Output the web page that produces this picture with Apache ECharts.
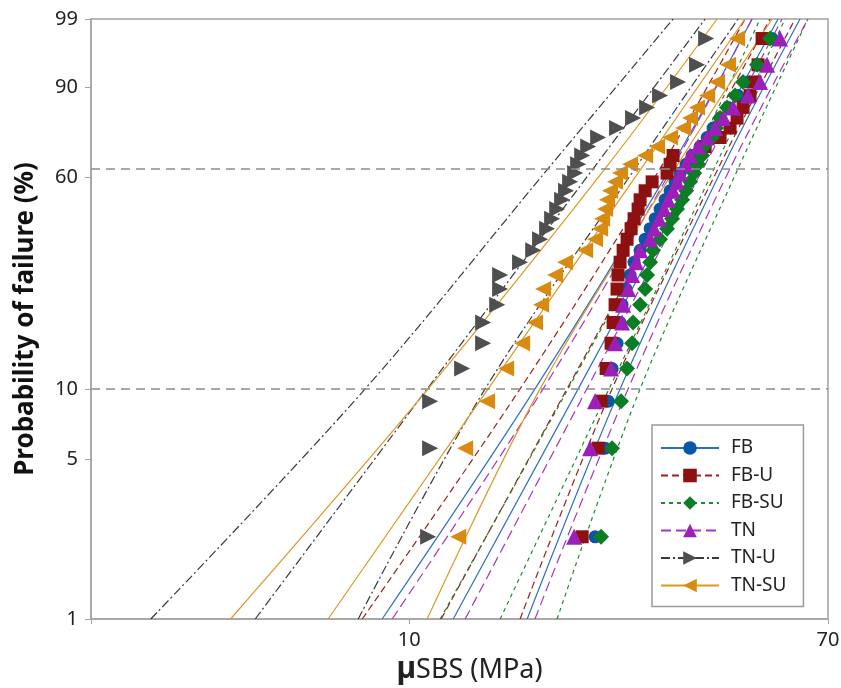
<!DOCTYPE html>
<html><head><meta charset="utf-8">
<script src="https://cdn.jsdelivr.net/npm/echarts@6/dist/echarts.min.js"></script>
<style>html,body{margin:0;padding:0;background:#fff}#c{width:841px;height:688px}</style>
</head><body><div id="c"></div>
<script>
// ---- data ----
const groups = ['FB', 'FB-U', 'FB-SU', 'TN', 'TN-U', 'TN-SU'];
// probability of failure (%) of the 30 ranked specimens
const failProb = [2.30, 5.59, 8.88, 12.17, 15.46, 18.75, 22.04, 25.33, 28.62, 31.91,
  35.20, 38.49, 41.78, 45.07, 48.36, 51.64, 54.93, 58.22, 61.51, 64.80,
  68.09, 71.38, 74.67, 77.96, 81.25, 84.54, 87.83, 91.12, 94.41, 97.70];
// µSBS values (MPa), ranked
const sbsFB   = [23.72, 24.85, 25.20, 25.67, 26.27, 26.64, 26.89, 27.39, 27.91, 28.43, 29.24, 29.93, 30.63, 31.35, 32.08, 32.83, 33.61, 34.40, 35.21, 36.21, 37.22, 38.64, 39.92, 41.04, 42.40, 44.01, 46.09, 48.28, 50.58, 53.98];
const sbsFBU  = [22.34, 24.06, 24.39, 24.97, 25.55, 25.79, 26.03, 26.27, 26.39, 26.64, 27.02, 27.52, 28.04, 28.43, 28.97, 29.24, 29.93, 30.92, 33.14, 33.61, 34.08, 39.55, 42.40, 44.41, 45.88, 47.18, 48.73, 49.88, 50.58, 51.53];
const sbsFBSU = [24.39, 25.67, 26.76, 27.52, 28.17, 28.30, 29.24, 29.93, 30.21, 30.63, 31.06, 32.08, 33.14, 33.92, 34.72, 35.54, 36.21, 36.88, 37.57, 38.28, 39.00, 39.37, 40.85, 41.62, 42.40, 43.80, 45.45, 47.18, 50.34, 53.48];
const sbsTN   = [21.52, 23.18, 23.72, 25.55, 26.03, 26.89, 27.02, 27.65, 28.17, 28.70, 29.24, 30.63, 31.21, 31.93, 32.68, 33.29, 34.08, 34.72, 35.21, 36.21, 36.88, 38.28, 39.92, 41.42, 43.00, 45.04, 48.28, 51.05, 52.74, 56.02];
const sbsTNU  = [10.92, 11.02, 11.02, 12.79, 14.10, 14.10, 15.05, 15.26, 15.26, 16.74, 17.79, 18.37, 18.98, 19.43, 19.89, 20.35, 20.73, 21.12, 21.62, 21.92, 22.34, 22.97, 24.06, 26.27, 28.30, 30.21, 32.08, 34.88, 38.10, 39.73];
const sbsTNSU = [12.56, 12.97, 14.36, 15.69, 16.90, 17.94, 18.46, 18.63, 19.70, 20.63, 22.65, 23.72, 24.28, 24.51, 24.85, 25.08, 25.43, 26.03, 26.64, 27.91, 29.93, 31.64, 33.61, 35.71, 36.88, 38.10, 39.92, 41.82, 44.01, 45.88];
// fitted Weibull lines and 95% bounds: µSBS (MPa) at these probabilities
const lineProb = [1, 10, 63.2, 99];
const fbLower   = [8.82, 17.94, 33.61, 49.18];
const fbFit     = [12.27, 21.93, 38.10, 55.50];
const fbUpper   = [17.30, 26.64, 42.80, 61.47];
const fbuLower  = [8.04, 16.74, 32.08, 47.61];
const fbuFit    = [11.60, 20.82, 36.54, 53.48];
const fbuUpper  = [16.74, 25.67, 42.01, 60.06];
const fbsuLower = [11.55, 20.92, 36.54, 51.05];
const fbsuFit   = [15.26, 25.31, 41.24, 57.34];
const fbsuUpper = [19.88, 29.24, 46.09, 63.77];
const tnLower   = [9.24, 18.63, 33.92, 49.18];
const tnFit     = [12.97, 22.83, 39.19, 56.55];
const tnUpper   = [17.94, 27.65, 44.41, 63.77];
const tnuLower  = [3.01, 8.15, 19.07, 34.08];
const tnuFit    = [4.89, 10.87, 23.52, 39.55];
const tnuUpper  = [7.89, 14.23, 28.56, 46.09];
const tnsuLower = [4.36, 10.92, 24.85, 41.82];
const tnsuFit   = [6.86, 14.43, 29.38, 47.61];
const tnsuUpper = [10.87, 18.37, 34.40, 53.98];
// axis ticks
const probTicks = [1, 5, 10, 60, 90, 99];
const xTicks = [10, 70];
const refProb = [10, 63.2];

// ---- Weibull probability transform ----
const wb = p => Math.log(-Math.log(1 - p / 100));
const unwb = v => 100 * (1 - Math.exp(-Math.exp(v)));

const FONT = 'Noto Sans';
const styles = {
  'FB':    {color: '#0b56a6', line: '#2e6fc4', dash: 'solid', symbol: 'circle', size: 13, rot: 0, pts: sbsFB, lines: [fbFit, fbLower, fbUpper]},
  'FB-U':  {color: '#8e1111', line: '#a01e1e', dash: [7, 4], symbol: 'rect', size: 13, rot: 0, pts: sbsFBU, lines: [fbuFit, fbuLower, fbuUpper]},
  'FB-SU': {color: '#0b7d22', line: '#1a8b2b', dash: [4, 4], symbol: 'diamond', size: 16, rot: 0, pts: sbsFBSU, lines: [fbsuFit, fbsuLower, fbsuUpper]},
  'TN':    {color: '#9c1fba', line: '#a535c6', dash: [10, 5], symbol: 'triangle', size: 16, rot: 0, pts: sbsTN, lines: [tnFit, tnLower, tnUpper]},
  'TN-U':  {color: '#4f4f4f', line: '#3a3a3a', dash: [9, 3, 2, 3], symbol: 'triangle', size: 16, rot: -90, pts: sbsTNU, lines: [tnuFit, tnuLower, tnuUpper]},
  'TN-SU': {color: '#d98a10', line: '#de9626', dash: 'solid', symbol: 'triangle', size: 16, rot: 90, pts: sbsTNSU, lines: [tnsuFit, tnsuLower, tnsuUpper]}
};

const series = [];
groups.forEach((g, gi) => {
  const s = styles[g];
  s.lines.forEach((arr, li) => {
    const ser = {
      name: g, type: 'line', color: s.color,
      symbol: s.symbol, symbolRotate: s.rot, showSymbol: false,
      smooth: li === 0 ? false : 0.35,
      silent: true, z: 2,
      lineStyle: {color: s.line, width: 1.2, type: s.dash},
      data: lineProb.map((p, i) => [arr[i], wb(p)])
    };
    if (gi === 0 && li === 0) {
      ser.markLine = {
        silent: true, symbol: ['none', 'none'], label: {show: false},
        lineStyle: {color: '#8c8c8c', type: [9, 6], width: 1.5},
        data: refProb.map(p => ({yAxis: wb(p)}))
      };
    }
    series.push(ser);
  });
});
groups.forEach(g => {
  const s = styles[g];
  series.push({
    name: g, type: 'scatter', symbol: s.symbol, symbolRotate: s.rot, symbolSize: s.size,
    itemStyle: {color: s.color, opacity: 1}, z: 3,
    data: s.pts.map((x, i) => [x, wb(failProb[i])])
  });
});

const chart = echarts.init(document.getElementById('c'));
chart.setOption({
  animation: false,
  backgroundColor: '#fff',
  textStyle: {fontFamily: FONT},
  grid: {left: 91, right: 13, top: 19, bottom: 69, show: true, borderColor: '#a3a3a3', borderWidth: 1.5, outerBoundsMode: 'none'},
  legend: {
    orient: 'vertical', left: 652, top: 425, data: groups,
    itemWidth: 58, itemHeight: 17, itemGap: 8.5,
    padding: [13.5, 17, 11.5, 8],
    borderColor: '#9a9a9a', borderWidth: 1.5, backgroundColor: '#fff',
    textStyle: {fontSize: 19, color: '#222', fontFamily: FONT, padding: [0, 0, 0, 7]}
  },
  xAxis: {
    type: 'log', logBase: 10, min: 2.28, max: 70,
    axisLine: {onZero: false, lineStyle: {color: '#a3a3a3', width: 1.5}},
    axisTick: {show: true, length: 5, lineStyle: {color: '#a3a3a3'}},
    axisLabel: {fontSize: 20, color: '#222', margin: 11,
      formatter: v => (xTicks.some(t => Math.abs(t - v) < 0.5) ? String(Math.round(v)) : '')},
    splitLine: {show: false}, minorTick: {show: false},
    name: '{mu|µ}SBS (MPa)', nameLocation: 'middle', nameGap: 33,
    nameTextStyle: {fontSize: 27, color: '#222', fontFamily: FONT, padding: [0, 0, 0, 20],
      rich: {mu: {fontSize: 30, fontWeight: 'bold', color: '#222', fontFamily: FONT}}}
  },
  yAxis: {
    type: 'value', min: wb(1), max: wb(99),
    axisLine: {show: true, onZero: false, lineStyle: {color: '#a3a3a3', width: 1.5}},
    axisTick: {show: true, length: 6, customValues: probTicks.map(wb), lineStyle: {color: '#a3a3a3'}},
    axisLabel: {fontSize: 20, color: '#222', margin: 13, customValues: probTicks.map(wb),
      formatter: v => String(Math.round(unwb(v)))},
    splitLine: {show: false},
    name: 'Probability of failure (%)', nameLocation: 'middle', nameGap: 52,
    nameTextStyle: {fontSize: 26, fontWeight: 'bold', color: '#111', fontFamily: FONT}
  },
  series: series
});
</script>
</body></html>
